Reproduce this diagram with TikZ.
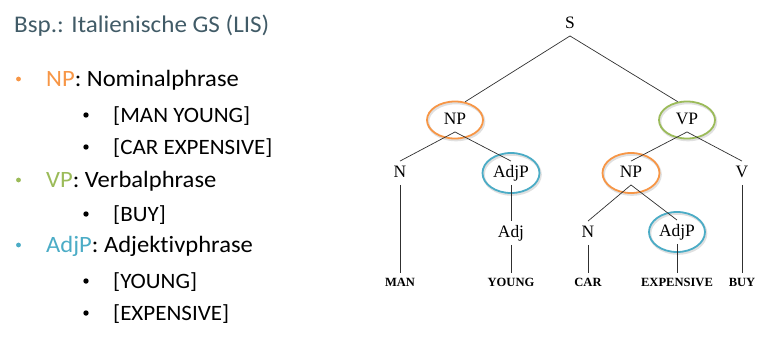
\documentclass[tikz,border=0pt]{standalone}
\usepackage{fontspec}
\setmainfont{Liberation Serif}
\newfontfamily\slidefont[FakeStretch=1.05,Ligatures=NoCommon]{Carlito}
\newfontfamily\treefont{Liberation Serif}
\definecolor{npc}{HTML}{F79646}
\definecolor{vpc}{HTML}{9BBB59}
\definecolor{adjc}{HTML}{4BACC6}
\definecolor{titlec}{HTML}{415B67}
\definecolor{linec}{HTML}{303030}
\usetikzlibrary{shapes.geometric}
\begin{document}
\begin{tikzpicture}[x=1bp,y=-1bp,
  slidetxt/.style={anchor=base west, inner sep=0pt, font=\slidefont\fontsize{23.5}{23.5}\selectfont},
  subtxt/.style={anchor=base west, inner sep=0pt, font=\slidefont\fontsize{22}{22}\selectfont},
  lbl/.style={inner xsep=2bp, inner ysep=5bp, text height=11.5bp, text depth=2bp, font=\treefont\fontsize{17.5}{17.5}\selectfont},
  leaf/.style={inner xsep=2bp, inner ysep=5bp, text height=8.5bp, text depth=0bp, font=\treefont\bfseries\fontsize{12.6}{12.6}\selectfont},
  ring/.style={ellipse, draw=#1, line width=1.8bp, inner sep=0pt},
  ringshadow/.style={ellipse, draw=black, draw opacity=0.12, line width=2.6bp, inner sep=0pt},
  branch/.style={draw=linec, line width=0.7bp},
  mainbullet/.style={circle, fill=#1, inner sep=0pt, minimum size=4.8bp},
  subbullet/.style={circle, fill=black, inner sep=0pt, minimum size=5.4bp}]
\useasboundingbox (0,0) rectangle (767,337);
% ---- left text ----
\node[slidetxt, text=titlec, font=\slidefont\fontsize{24}{24}\selectfont] (title) at (14,32.3) {Bsp.: Italienische GS (LIS)};
\node[mainbullet=npc] (b1) at (18.5,79) {};
\node[slidetxt] (t1) at (46,86.5) {\textcolor{npc}{NP}: Nominalphrase};
\node[subbullet] (b11) at (86,115) {};
\node[subtxt] (t11) at (113,122) {[MAN YOUNG]};
\node[subbullet] (b12) at (86,147) {};
\node[subtxt] (t12) at (113,154.3) {[CAR EXPENSIVE]};
\node[mainbullet=vpc] (b2) at (18.5,180) {};
\node[slidetxt] (t2) at (46,187.3) {\textcolor{vpc}{VP}: Verbalphrase};
\node[subbullet] (b21) at (86,214) {};
\node[subtxt] (t21) at (113,221.3) {[BUY]};
\node[mainbullet=adjc] (b3) at (18.5,245) {};
\node[slidetxt] (t3) at (46,252.3) {\textcolor{adjc}{AdjP}: Adjektivphrase};
\node[subbullet] (b31) at (86,281) {};
\node[subtxt] (t31) at (113,288.3) {[YOUNG]};
\node[subbullet] (b32) at (86,313) {};
\node[subtxt] (t32) at (113,320.3) {[EXPENSIVE]};
% ---- ellipse shadows ----
\node[ringshadow, minimum width=56bp, minimum height=37bp] (NP1s) at (456,121.5) {};
\node[ringshadow, minimum width=56bp, minimum height=37bp] (VPs) at (688,121.5) {};
\node[ringshadow, minimum width=57bp, minimum height=40bp] (AdjP1s) at (512,174.5) {};
\node[ringshadow, minimum width=57bp, minimum height=40bp] (NP2s) at (632,174.5) {};
\node[ringshadow, minimum width=56bp, minimum height=40bp] (AdjP2s) at (678,233.5) {};
% ---- ellipses ----
\node[ring=npc, minimum width=56bp, minimum height=37bp] (NP1e) at (455,120) {};
\node[ring=vpc, minimum width=56bp, minimum height=37bp] (VPe) at (687,120) {};
\node[ring=adjc, minimum width=57bp, minimum height=40bp] (AdjP1e) at (511,173) {};
\node[ring=npc, minimum width=57bp, minimum height=40bp] (NP2e) at (631,173) {};
\node[ring=adjc, minimum width=56bp, minimum height=40bp] (AdjP2e) at (677,232) {};
% ---- tree labels ----
\node[lbl] (S) at (570,24) {S};
\node[lbl] (NP1) at (455,120) {NP};
\node[lbl] (VP) at (687,120) {VP};
\node[lbl] (N1) at (400,173) {N};
\node[lbl] (AdjP1) at (511,173) {AdjP};
\node[lbl] (NP2) at (631,173) {NP};
\node[lbl] (V) at (742,173) {V};
\node[lbl] (Adj) at (511,233) {Adj};
\node[lbl] (N2) at (588,233) {N};
\node[lbl] (AdjP2) at (677,232) {AdjP};
\node[leaf] (MAN) at (400,282) {MAN};
\node[leaf] (YOUNG) at (511,282) {YOUNG};
\node[leaf] (CAR) at (588,282) {CAR};
\node[leaf] (EXP) at (677,282) {EXPENSIVE};
\node[leaf] (BUY) at (742,282) {BUY};
% ---- branches ----
\draw[branch] (S.south) -- (NP1e.61);
\draw[branch] (S.south) -- (VPe.117);
\draw[branch] (NP1.south) -- (N1.north);
\draw[branch] (NP1.south) -- (AdjP1.north);
\draw[branch] (VP.south) -- (NP2.north);
\draw[branch] (VP.south) -- (V.north);
\draw[branch] (NP2.south) -- (N2.north);
\draw[branch] (NP2.south) -- (AdjP2.north);
\draw[branch] (N1.south) -- (MAN.north);
\draw[branch] (AdjP1.south) -- (Adj.north);
\draw[branch] (Adj.south) -- (YOUNG.north);
\draw[branch] (N2.south) -- (CAR.north);
\draw[branch] (AdjP2.south) -- (EXP.north);
\draw[branch] (V.south) -- (BUY.north);
\end{tikzpicture}
\end{document}
